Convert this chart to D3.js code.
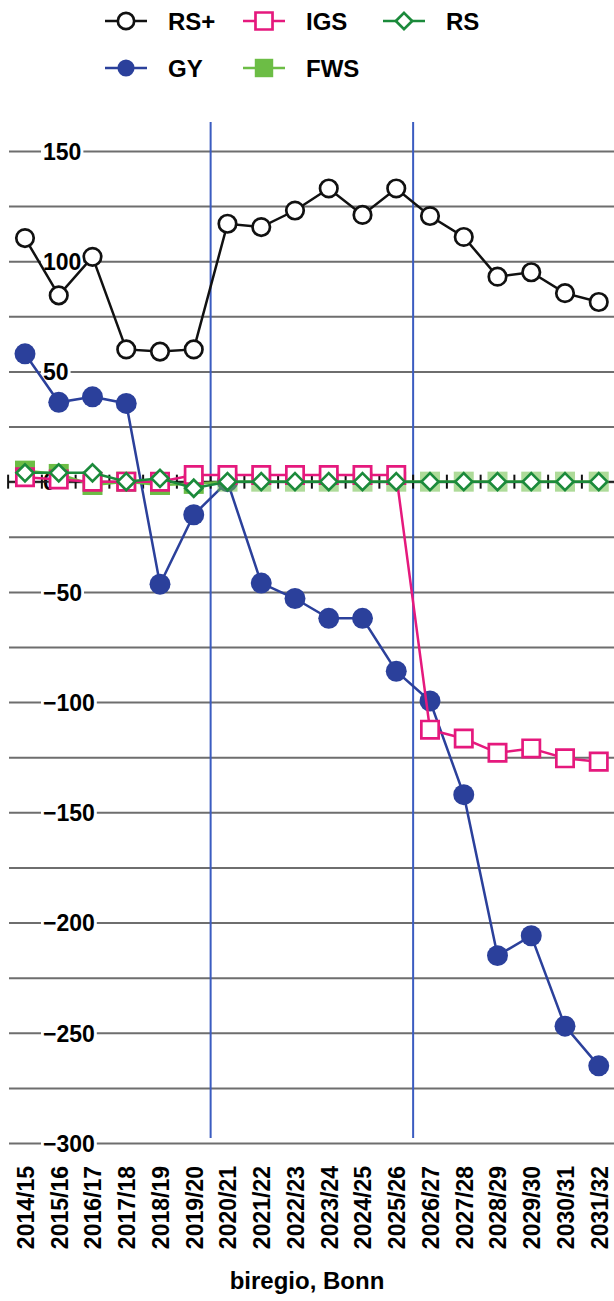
<!DOCTYPE html>
<html>
<head>
<meta charset="utf-8">
<script src="https://cdn.jsdelivr.net/npm/d3@7"></script>
<style>
  body { margin: 0; background: #fff; }
  text { font-family: "Liberation Sans", Arial, sans-serif; font-weight: bold; fill: #000; }
</style>
</head>
<body>
<svg id="chart"></svg>
<script>
// school years
const years = ["2014/15", "2015/16", "2016/17", "2017/18", "2018/19", "2019/20", "2020/21", "2021/22", "2022/23",
  "2023/24", "2024/25", "2025/26", "2026/27", "2027/28", "2028/29", "2029/30", "2030/31", "2031/32"]

// series values
const rsPlus = [110.5, 84.5, 102, 60, 59, 60, 117, 115.5, 123, 133, 121, 133, 120.5, 111, 93, 95, 85.5, 81.5]
const igs = [2, 1, 0, 0, 0, 3, 3, 3, 3, 3, 3, 3, -112.5, -116.5, -123, -121, -125.5, -127]
const rs = [4, 4, 4, 0, 1.5, -3, 0, 0, 0, 0, 0, 0, 0, 0, 0, 0, 0, 0]
const gy = [58, 36, 38.5, 35.5, -46.5, -15, 0, -46, -53, -62, -62, -86, -99.5, -142, -215, -206, -247, -265]
const fws = [5, 3.5, -1.5, 0, -1.5, -1, 0, 0, 0, 0, 0, 0, 0, 0, 0, 0, 0, 0]

const gridTicks = d3.range(-300, 151, 25)
const labelTicks = [150, 100, 50, 0, -50, -100, -150, -200, -250, -300]
const splitAfter = ["2019/20", "2025/26"]   // blue separators sit after these years
const title = "biregio, Bonn"

const W = 614, H = 1301
let svg = d3.select("#chart").attr("width", W).attr("height", H)

let x = d3.scalePoint().domain(years).range([25, 598.75]),
    y = d3.scaleLinear().domain([-300, 150]).range([1143, 151])
let step = x.step()

const col = {
  rsPlus: "#111", igs: "#e5197d", rs: "#1b8a3b", gy: "#2b409b", fws: "#6cbd45", split: "#3b5cc0", grid: "#6e6e6e"
}

// gridlines
svg.append("g")
  .attr("transform", "translate(9,0)")
  .call(d3.axisLeft(y).tickValues(gridTicks).tickSize(-605).tickFormat(""))
  .call(g => g.select(".domain").remove())
  .call(g => g.selectAll("line").attr("stroke", col.grid).attr("stroke-width", 2))

// y labels, laid over the gridlines with a white knockout
let yLab = svg.append("g")
  .attr("transform", "translate(43,0)")
  .call(d3.axisRight(y).tickValues(labelTicks).tickSize(0).tickPadding(0).tickFormat(d3.format("d")))
  .call(g => g.select(".domain").remove())
yLab.selectAll("text")
  .attr("x", 0).attr("dy", "0.36em")
  .style("text-anchor", "start").style("font-size", "23px").style("font-family", null)
yLab.selectAll(".tick").each(function() {
  let t = d3.select(this).select("text"), b = t.node().getBBox()
  d3.select(this).insert("rect", "text")
    .attr("x", b.x - 2).attr("y", b.y + 3).attr("width", b.width + 4).attr("height", b.height - 6)
    .attr("fill", "#fff")
})

// separators
svg.append("g").selectAll("line").data(splitAfter)
  .enter().append("line")
  .attr("x1", d => x(d) + step / 2).attr("x2", d => x(d) + step / 2)
  .attr("y1", 122).attr("y2", 1138)
  .attr("stroke", col.split).attr("stroke-width", 2)

// zero axis with category ticks
let bounds = [x(years[0]) - step / 2].concat(years.map(d => x(d) + step / 2))
let zero = svg.append("g").attr("transform", "translate(0," + y(0) + ")")
zero.append("line").attr("x1", 9).attr("x2", W).attr("stroke", "#222").attr("stroke-width", 2)
zero.selectAll(".tk").data(bounds).enter().append("line")
  .attr("x1", d => d).attr("x2", d => d).attr("y1", -7).attr("y2", 7)
  .attr("stroke", "#111").attr("stroke-width", 2)

// x labels
let xAx = svg.append("g")
  .attr("transform", "translate(0,1166)")
  .call(d3.axisBottom(x).tickSize(0))
  .call(g => g.select(".domain").remove())
xAx.selectAll("text")
  .attr("x", 0).attr("y", 0).attr("dy", "0.36em")
  .attr("transform", "rotate(-90)")
  .style("text-anchor", "end").style("font-size", "23px").style("font-family", null)

function line(values, color) {
  svg.append("path")
    .datum(values)
    .attr("fill", "none").attr("stroke", color).attr("stroke-width", 2.5)
    .attr("d", d3.line().x((d, i) => x(years[i])).y(d => y(d)))
}

function dots(values, shape, color, fill, size) {
  let sym = d3.symbol().type(shape).size(size)
  svg.append("g").selectAll("path").data(values)
    .enter().append("path")
    .attr("transform", (d, i) => "translate(" + x(years[i]) + "," + y(d) + ")")
    .attr("d", sym)
    .attr("fill", fill)
    .attr("stroke", fill == "#fff" ? color : "none")
    .attr("stroke-width", 2.7)
}

// GY
line(gy, col.gy)
dots(gy, d3.symbolCircle, col.gy, col.gy, 345)
// FWS
line(fws, col.fws)
svg.append("g").selectAll("rect").data(fws)
  .enter().append("rect")
  .attr("x", (d, i) => x(years[i]) - 10).attr("y", d => y(d) - 10)
  .attr("width", 20).attr("height", 20)
  .attr("fill", col.fws).attr("fill-opacity", (d, i) => i >= 6 ? 0.55 : 1)
// IGS
line(igs, col.igs)
dots(igs, d3.symbolSquare, col.igs, "#fff", 300)
// RS+
line(rsPlus, col.rsPlus)
dots(rsPlus, d3.symbolCircle, col.rsPlus, "#fff", 240)
// RS
line(rs, col.rs)
dots(rs, d3.symbolDiamond2, col.rs, "#fff", 185)

// legend
const legendItems = [
  {name: "RS+", color: col.rsPlus, fill: "#fff", shape: d3.symbolCircle, size: 210, cx: 126, cy: 21},
  {name: "IGS", color: col.igs, fill: "#fff", shape: d3.symbolSquare, size: 290, cx: 264, cy: 21},
  {name: "RS", color: col.rs, fill: "#fff", shape: d3.symbolDiamond2, size: 170, cx: 404, cy: 21},
  {name: "GY", color: col.gy, fill: col.gy, shape: d3.symbolCircle, size: 230, cx: 126, cy: 68},
  {name: "FWS", color: col.fws, fill: col.fws, shape: d3.symbolSquare, size: 340, cx: 264, cy: 68}
]
let lg = svg.append("g").selectAll("g").data(legendItems)
  .enter().append("g")
  .attr("transform", d => "translate(" + d.cx + "," + d.cy + ")")
lg.append("line").attr("x1", -21).attr("x2", 21)
  .attr("stroke", d => d.color).attr("stroke-width", 2.5)
lg.append("path")
  .attr("d", d => d3.symbol().type(d.shape).size(d.size)())
  .attr("fill", d => d.fill)
  .attr("stroke", d => d.fill == "#fff" ? d.color : "none")
  .attr("stroke-width", 2.7)
lg.append("text")
  .attr("x", 42).attr("dy", "0.36em")
  .style("font-size", "24px")
  .text(d => d.name)

svg.append("text")
  .attr("x", 307).attr("y", 1289)
  .attr("text-anchor", "middle")
  .style("font-size", "24px")
  .text(title)
</script>
</body>
</html>
